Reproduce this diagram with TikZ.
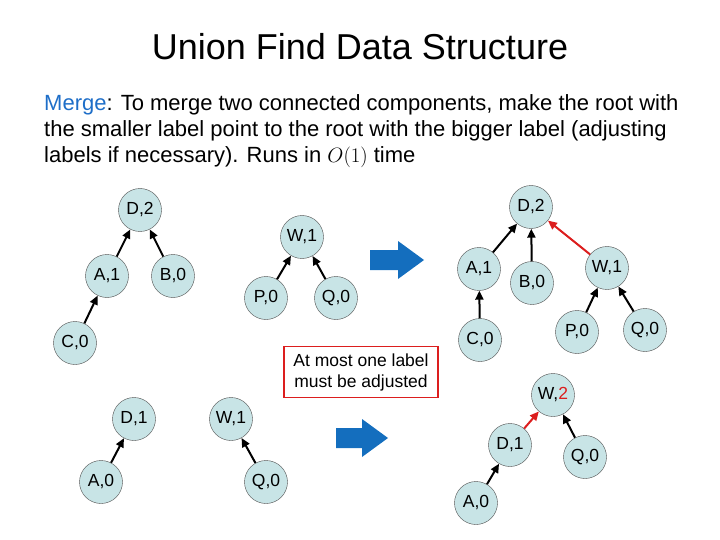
\documentclass[tikz,border=0pt]{standalone}
\usepackage{fontspec}
\setmainfont{Liberation Sans}
\usetikzlibrary{arrows.meta}
\definecolor{nodefill}{RGB}{200,228,230}
\definecolor{mblue}{RGB}{30,110,200}
\definecolor{arrblue}{RGB}{20,110,190}
\definecolor{myred}{RGB}{220,30,30}
\begin{document}
\begin{tikzpicture}[x=1pt,y=-1pt,
  nd/.style={circle,draw=black!70,fill=nodefill,minimum size=43pt,inner sep=0pt,font=\fontsize{17.5}{20}\selectfont},
  ed/.style={-{Triangle[length=9pt,width=8pt]},line width=2pt,black},
  red/.style={ed,myred},
  bigarr/.style={arrblue,fill=arrblue}]
\useasboundingbox (0,0) rectangle (720,540);
\node[font=\fontsize{36}{40}\selectfont] (title) at (360,47) {Union Find Data Structure};
\node[anchor=base west,font=\fontsize{22}{26}\selectfont,inner sep=0pt] (l1) at (44,111) {\textcolor{mblue}{Merge}: To merge two connected components, make the root with};
\node[anchor=base west,font=\fontsize{22}{26}\selectfont,inner sep=0pt] (l2) at (44,137) {the smaller label point to the root with the bigger label (adjusting};
\node[anchor=base west,font=\fontsize{22}{26}\selectfont,inner sep=0pt] (l3) at (44,163) {labels if necessary). Runs in $O(1)$ time};
% left top trees
\node[nd] (d2) at (140,210) {D,2};
\node[nd] (a1) at (107,276) {A,1};
\node[nd] (b0) at (173,276) {B,0};
\node[nd] (c0) at (75,343) {C,0};
\node[nd] (w1) at (302,237) {W,1};
\node[nd] (p0) at (266,298) {P,0};
\node[nd] (q0) at (336,298) {Q,0};
\draw[ed] (a1) -- (d2); \draw[ed] (b0) -- (d2); \draw[ed] (c0) -- (a1);
\draw[ed] (p0) -- (w1); \draw[ed] (q0) -- (w1);
% right top tree
\node[nd] (rd2) at (531,207) {D,2};
\node[nd] (ra1) at (479,269) {A,1};
\node[nd] (rb0) at (532,283) {B,0};
\node[nd] (rw1) at (607,268) {W,1};
\node[nd] (rc0) at (480,340) {C,0};
\node[nd] (rp0) at (577,332) {P,0};
\node[nd] (rq0) at (645,330) {Q,0};
\draw[ed] (ra1) -- (rd2); \draw[ed] (rb0) -- (rd2); \draw[ed] (rc0) -- (ra1);
\draw[red] (rw1) -- (rd2);
\draw[ed] (rp0) -- (rw1); \draw[ed] (rq0) -- (rw1);
% box
\node[draw=myred,line width=1.5pt,minimum width=154pt,minimum height=51pt,align=center,inner sep=2pt,font=\fontsize{17.5}{21}\selectfont] (box) at (361,372) {At most one label\\must be adjusted};
% bottom left
\node[nd] (d1) at (134,419) {D,1};
\node[nd] (a0) at (101,482) {A,0};
\node[nd] (bw1) at (231,419) {W,1};
\node[nd] (bq0) at (266,482) {Q,0};
\draw[ed] (a0) -- (d1); \draw[ed] (bq0) -- (bw1);
% bottom right
\node[nd] (w2) at (553,395) {W,\textcolor{myred}{2}};
\node[nd] (rd1) at (510,445) {D,1};
\node[nd] (rq0b) at (585,457) {Q,0};
\node[nd] (ra0) at (476,503) {A,0};
\draw[red] (rd1) -- (w2); \draw[ed] (rq0b) -- (w2); \draw[ed] (ra0) -- (rd1);
% big arrows
\fill[bigarr] (370,250) -- (398,250) -- (398,241) -- (424,260) -- (398,279) -- (398,270) -- (370,270) -- cycle;
\fill[bigarr] (336,428) -- (362,428) -- (362,419) -- (388,438) -- (362,457) -- (362,448) -- (336,448) -- cycle;
\end{tikzpicture}
\end{document}
